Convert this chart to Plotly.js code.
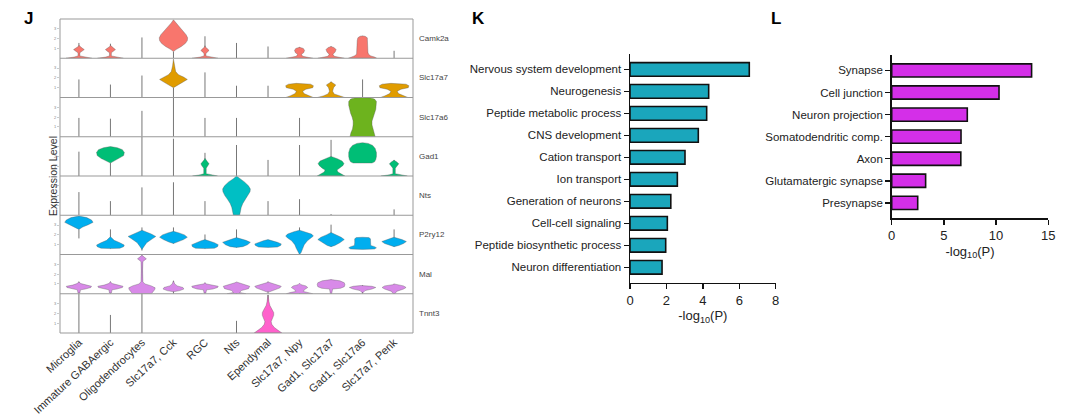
<!DOCTYPE html>
<html><head><meta charset="utf-8">
<script src="https://cdn.plot.ly/plotly-3.0.1.min.js"></script>
<style>html,body{margin:0;padding:0;background:#fff}#chart{width:1080px;height:419px}</style>
</head><body><div id="chart"></div>
<script>
// ---------------- DATA ----------------
const cellTypes = ['Microglia','Immature GABAergic','Oligodendrocytes','Slc17a7, Cck','RGC','Nts','Ependymal','Slc17a7, Npy','Gad1, Slc17a7','Gad1, Slc17a6','Slc17a7, Penk'];
const genes = ['Camk2a','Slc17a7','Slc17a6','Gad1','Nts','P2ry12','Mal','Tnnt3'];
const geneColors = ['#F8766D','#E09C00','#6DB31E','#00BE76','#00BFC4','#00AEEF','#D88AE8','#FF61CC'];

// spike lines per cell type: [low, high] in row-normalised expression (0 = row baseline, 1 = row max)
const camk2aSpikes  = [[0,0.39],[0,0.37],[0,0.53],[0,0.17],[0,0.56],[0,0.39],[0,0.30],[0,0.28],[0,0.30],[0,0.57],[0,0.19]];
const slc17a7Spikes = [[0,0.46],[0,0.33],[0,0.56],[0,0.25],[0,0.64],[0,0.30],[0,0.30],null,[0,0.40],[0,0.46],null];
const slc17a6Spikes = [[0,0.48],[0,0.46],[0,0.66],[0,1.0],[0,0.48],[0,0.48],null,[0,0.48],null,null,null];
const gad1Spikes    = [[0,0.62],[0,0.33],[0,1.0],[0,0.95],[0,0.59],[0,0.79],[0,0.41],[0,0.79],[0,0.92],null,[0,0.41]];
const ntsSpikes     = [[0,0.59],[0,0.36],[0,0.71],[0,0.84],[0,0.36],null,[0,0.36],[0,0.41],[0,0.03],null,[0,0.15]];
const p2ry12Spikes  = [[0.41,0.64],[0.15,0.64],[0.10,0.69],[0.28,0.69],[0.15,0.51],[0.18,0.64],null,[0,0.69],[0.2,0.76],null,[0.2,0.64]];
const malSpikes     = [[0,0.31],[0,0.31],[0,0.98],[0,0.33],[0,0.28],[0,0.28],[0,0.31],[0,0.25],[0,0.36],[0,0.22],[0,0.25]];
const tnnt3Spikes   = [[0,1.0],[0,0.46],[0,1.0],null,null,[0,0.31],[0,0.97],null,null,null,null];

// density profiles per cell type: [expression level, half-width of density]
const camk2aProfiles = [
  [[0,0.41],[0.03,0.15],[0.06,0.03],[0.14,0.03],[0.18,0.1],[0.22,0.17],[0.26,0.1],[0.3,0.02],[0.33,0]],
  [[0,0.41],[0.03,0.15],[0.06,0.03],[0.14,0.03],[0.18,0.1],[0.22,0.16],[0.26,0.1],[0.3,0.02],[0.33,0]],
  null,
  [[0.17,0],[0.22,0.08],[0.3,0.25],[0.38,0.38],[0.45,0.44],[0.52,0.45],[0.6,0.4],[0.7,0.3],[0.8,0.18],[0.9,0.07],[0.98,0]],
  [[0,0.41],[0.03,0.15],[0.06,0.03],[0.12,0.03],[0.16,0.08],[0.2,0.13],[0.24,0.08],[0.28,0.02],[0.32,0]],
  null, null,
  [[0,0.42],[0.02,0.3],[0.05,0.1],[0.1,0.06],[0.14,0.13],[0.2,0.16],[0.25,0.12],[0.28,0]],
  [[0,0.42],[0.02,0.3],[0.05,0.1],[0.1,0.06],[0.16,0.13],[0.22,0.16],[0.27,0.1],[0.3,0]],
  [[0,0.45],[0.03,0.38],[0.06,0.26],[0.1,0.19],[0.15,0.17],[0.3,0.17],[0.45,0.17],[0.52,0.15],[0.56,0.08],[0.57,0]],
  null
];
const slc17a7Profiles = [
  null, null, null,
  [[0.25,0],[0.3,0.1],[0.38,0.28],[0.46,0.44],[0.52,0.32],[0.58,0.16],[0.66,0.07],[0.8,0.03],[0.98,0]],
  null, null, null,
  [[0,0.44],[0.04,0.3],[0.1,0.14],[0.16,0.1],[0.21,0.2],[0.25,0.42],[0.3,0.44],[0.34,0.35],[0.36,0.1],[0.37,0]],
  [[0,0.44],[0.04,0.25],[0.09,0.1],[0.16,0.05],[0.25,0.08],[0.32,0.15],[0.37,0.05],[0.4,0]],
  null,
  [[0,0.44],[0.04,0.3],[0.1,0.14],[0.16,0.1],[0.21,0.22],[0.25,0.45],[0.3,0.47],[0.34,0.38],[0.36,0.1],[0.37,0]]
];
const slc17a6Profiles = [
  null, null, null, null, null, null, null, null, null,
  [[0,0.4],[0.1,0.37],[0.2,0.32],[0.3,0.3],[0.4,0.3],[0.5,0.33],[0.6,0.38],[0.7,0.42],[0.8,0.44],[0.9,0.44],[0.96,0.38],[0.99,0.25],[1.0,0]],
  null
];
const gad1Profiles = [
  null,
  [[0.33,0],[0.38,0.12],[0.45,0.3],[0.52,0.42],[0.6,0.44],[0.67,0.38],[0.72,0.22],[0.75,0]],
  null, null,
  [[0,0.4],[0.03,0.15],[0.06,0.04],[0.2,0.04],[0.26,0.1],[0.31,0.13],[0.36,0.08],[0.42,0.02],[0.45,0]],
  null, null, null,
  [[0,0.44],[0.05,0.35],[0.1,0.22],[0.15,0.19],[0.2,0.28],[0.27,0.38],[0.32,0.41],[0.38,0.35],[0.44,0.2],[0.48,0.06],[0.5,0]],
  [[0.33,0],[0.331,0.3],[0.36,0.38],[0.42,0.42],[0.5,0.44],[0.6,0.44],[0.7,0.4],[0.78,0.32],[0.83,0.18],[0.85,0]],
  [[0,0.42],[0.03,0.15],[0.06,0.04],[0.2,0.04],[0.26,0.1],[0.31,0.15],[0.36,0.08],[0.4,0]]
];
const ntsProfiles = [
  null, null, null, null, null,
  [[0,0.1],[0.1,0.12],[0.2,0.15],[0.3,0.2],[0.4,0.28],[0.5,0.37],[0.6,0.43],[0.67,0.44],[0.75,0.38],[0.85,0.25],[0.93,0.1],[1.0,0]],
  null, null, null, null, null
];
const p2ry12Profiles = [
  [[0.64,0],[0.7,0.12],[0.76,0.3],[0.82,0.45],[0.88,0.4],[0.94,0.25],[0.98,0]],
  [[0.15,0],[0.16,0.3],[0.2,0.42],[0.24,0.44],[0.3,0.3],[0.36,0.12],[0.43,0.03],[0.45,0]],
  [[0.13,0],[0.2,0.06],[0.3,0.15],[0.4,0.33],[0.46,0.44],[0.52,0.3],[0.58,0.1],[0.62,0]],
  [[0.28,0],[0.32,0.15],[0.38,0.32],[0.44,0.44],[0.5,0.35],[0.55,0.18],[0.59,0]],
  [[0.15,0],[0.16,0.3],[0.2,0.4],[0.25,0.42],[0.3,0.3],[0.35,0.12],[0.38,0]],
  [[0.18,0],[0.2,0.2],[0.25,0.35],[0.31,0.44],[0.36,0.3],[0.4,0.12],[0.43,0]],
  [[0.18,0],[0.19,0.3],[0.23,0.4],[0.27,0.42],[0.31,0.3],[0.35,0.15],[0.38,0]],
  [[0,0],[0.05,0.05],[0.15,0.1],[0.25,0.15],[0.35,0.25],[0.42,0.38],[0.47,0.44],[0.52,0.38],[0.58,0.18],[0.62,0]],
  [[0.2,0],[0.23,0.12],[0.3,0.28],[0.38,0.42],[0.44,0.32],[0.5,0.15],[0.56,0]],
  [[0.13,0],[0.14,0.38],[0.17,0.44],[0.2,0.38],[0.23,0.26],[0.3,0.25],[0.4,0.25],[0.43,0.2],[0.44,0]],
  [[0.2,0],[0.23,0.15],[0.28,0.3],[0.33,0.39],[0.38,0.25],[0.42,0.08],[0.44,0]]
];
const malProfiles = [
  [[0.02,0.03],[0.1,0.05],[0.12,0.2],[0.16,0.38],[0.19,0.4],[0.22,0.2],[0.26,0.06],[0.3,0]],
  [[0.02,0.03],[0.1,0.05],[0.12,0.2],[0.16,0.38],[0.19,0.4],[0.22,0.2],[0.26,0.06],[0.3,0]],
  [[0,0.3],[0.05,0.35],[0.1,0.4],[0.15,0.42],[0.2,0.3],[0.25,0.1],[0.3,0.03],[0.6,0.02],[0.82,0.03],[0.89,0.14],[0.96,0.03],[0.98,0]],
  [[0.05,0],[0.08,0.2],[0.12,0.33],[0.16,0.3],[0.2,0.12],[0.25,0.04],[0.33,0]],
  [[0.02,0.03],[0.1,0.05],[0.12,0.25],[0.16,0.4],[0.19,0.42],[0.22,0.25],[0.25,0.05],[0.28,0]],
  [[0,0.3],[0.03,0.1],[0.08,0.15],[0.13,0.38],[0.19,0.42],[0.24,0.25],[0.28,0.05],[0.3,0]],
  [[0.05,0.05],[0.1,0.2],[0.15,0.38],[0.19,0.42],[0.24,0.2],[0.28,0.05],[0.3,0]],
  [[0,0.42],[0.03,0.3],[0.06,0.12],[0.1,0.15],[0.16,0.26],[0.2,0.2],[0.23,0.05],[0.27,0]],
  [[0,0.02],[0.12,0.05],[0.14,0.3],[0.18,0.42],[0.23,0.44],[0.28,0.42],[0.33,0.28],[0.36,0]],
  [[0.03,0.02],[0.08,0.08],[0.12,0.3],[0.16,0.42],[0.19,0.3],[0.21,0.05],[0.22,0]],
  [[0,0.03],[0.06,0.08],[0.12,0.3],[0.16,0.38],[0.2,0.3],[0.23,0.05],[0.25,0]]
];
const tnnt3Profiles = [
  null, null, null, null, null, null,
  [[0,0.44],[0.03,0.4],[0.08,0.3],[0.14,0.2],[0.22,0.12],[0.29,0.1],[0.36,0.14],[0.45,0.18],[0.52,0.18],[0.6,0.13],[0.7,0.06],[0.8,0.03],[0.97,0]],
  null, null, null, null
];
const geneSpikes = [camk2aSpikes, slc17a7Spikes, slc17a6Spikes, gad1Spikes, ntsSpikes, p2ry12Spikes, malSpikes, tnnt3Spikes];
const geneProfiles = [camk2aProfiles, slc17a7Profiles, slc17a6Profiles, gad1Profiles, ntsProfiles, p2ry12Profiles, malProfiles, tnnt3Profiles];

// Panel K
const kTerms = ['Nervous system development','Neurogenesis','Peptide metabolic process','CNS development','Cation transport','Ion transport','Generation of neurons','Cell-cell signaling','Peptide biosynthetic process','Neuron differentiation'];
const kValues = [6.55, 4.32, 4.21, 3.75, 3.02, 2.6, 2.24, 2.05, 1.96, 1.76];
// Panel L
const lTerms = ['Synapse','Cell junction','Neuron projection','Somatodendritic comp.','Axon','Glutamatergic synapse','Presynapse'];
const lValues = [13.4, 10.28, 7.24, 6.64, 6.62, 3.25, 2.49];

// ---------------- LAYOUT ----------------
const W = 1080, H = 419;
const FONT = 'Liberation Sans, Arial, Helvetica, sans-serif';
const J_LEFT = 60, J_RIGHT = 413, ROW_TOP = 19, ROW_H = 39.25;
const px = v => v / W, py = v => 1 - v / H;

const traces = [];
const layout = {
  width: W, height: H, margin: {l:0, r:0, t:0, b:0},
  paper_bgcolor: '#fff', plot_bgcolor: 'rgba(0,0,0,0)',
  showlegend: false, font: {family: FONT, color: '#333'},
  shapes: [], annotations: []
};

layout.xaxis = {
  domain: [px(J_LEFT), px(J_RIGHT)], range: [-0.6, 10.6], anchor: 'y8',
  tickmode: 'array', tickvals: cellTypes.map((_, i) => i), ticktext: cellTypes,
  tickangle: -43, tickfont: {size: 11, color: '#333', family: FONT},
  showgrid: false, zeroline: false, showline: false, ticks: ''
};

genes.forEach((g, gi) => {
  const ax = gi === 0 ? 'y' : 'y' + (gi + 1);
  const axKey = gi === 0 ? 'yaxis' : 'yaxis' + (gi + 1);
  const top = ROW_TOP + gi * ROW_H, bot = top + ROW_H;
  layout[axKey] = {
    domain: [py(bot), py(top)], range: [0, 1.0], anchor: 'x',
    showgrid: false, zeroline: false, showline: false,
    tickmode: 'array', tickvals: [0.25, 0.5, 0.75], ticktext: ['1', '2', '3'],
    ticks: 'outside', ticklen: 2, tickcolor: '#999', tickwidth: 0.5,
    tickfont: {size: 4, color: '#888'}
  };
  // spikes
  const sx = [], sy = [];
  geneSpikes[gi].forEach((s, ci) => {
    if (!s) return;
    sx.push(ci, ci, null); sy.push(s[0], s[1], null);
  });
  traces.push({type: 'scatter', mode: 'lines', x: sx, y: sy, xaxis: 'x', yaxis: ax,
    line: {color: '#777', width: 1}, hoverinfo: 'skip'});
  // violins
  geneProfiles[gi].forEach((p, ci) => {
    if (!p) return;
    const xs = [], ys = [];
    p.forEach(([y, w]) => { xs.push(ci + w); ys.push(y); });
    for (let k = p.length - 1; k >= 0; k--) { xs.push(ci - p[k][1]); ys.push(p[k][0]); }
    xs.push(xs[0]); ys.push(ys[0]);
    traces.push({type: 'scatter', mode: 'lines', x: xs, y: ys, xaxis: 'x', yaxis: ax,
      fill: 'toself', fillcolor: geneColors[gi], line: {color: 'rgba(90,90,90,0.7)', width: 0.5},
      hoverinfo: 'skip'});
  });
  // gene label
  layout.annotations.push({xref: 'paper', yref: 'paper', x: px(417), y: py(top + ROW_H / 2),
    xanchor: 'left', yanchor: 'middle', text: g, showarrow: false,
    font: {size: 8, color: '#444', family: FONT}});
  // row separator
  if (gi > 0) layout.shapes.push({type: 'line', xref: 'paper', yref: 'paper',
    x0: px(J_LEFT), x1: px(J_RIGHT), y0: py(top), y1: py(top), line: {color: '#999', width: 1}});
});
layout.shapes.push({type: 'rect', xref: 'paper', yref: 'paper',
  x0: px(J_LEFT), x1: px(J_RIGHT), y0: py(ROW_TOP + 8 * ROW_H), y1: py(ROW_TOP),
  line: {color: '#999', width: 1}});
layout.annotations.push({xref: 'paper', yref: 'paper', x: px(45), y: py(ROW_TOP + 4 * ROW_H),
  text: 'Expression Level', textangle: -90, showarrow: false,
  font: {size: 10.5, color: '#333', family: FONT}});

// Panel K
traces.push({type: 'bar', orientation: 'h', x: kValues, y: kTerms, xaxis: 'x2', yaxis: 'y9',
  width: 0.62, marker: {color: '#1AA6BC', line: {color: '#111', width: 1.6}}, hoverinfo: 'skip'});
layout.xaxis2 = {domain: [px(630), px(775.7)], anchor: 'y9', range: [0, 8], dtick: 2, tick0: 0,
  showline: true, linecolor: '#111', linewidth: 1.5, ticks: 'outside', ticklen: 5, tickwidth: 1.5, tickcolor: '#111',
  showgrid: false, zeroline: false, tickfont: {size: 13, color: '#222', family: FONT},
  title: {text: '-log<sub>10</sub>(P)', font: {size: 13, color: '#222', family: FONT}, standoff: 4}};
layout.yaxis9 = {domain: [py(282.7), py(54)], anchor: 'x2', type: 'category',
  categoryorder: 'array', categoryarray: kTerms, range: [9.7, -0.7],
  showline: true, linecolor: '#111', linewidth: 1.5, ticks: 'outside', ticklen: 5, tickwidth: 1.5, tickcolor: '#111',
  showgrid: false, zeroline: false, tickfont: {size: 11.5, color: '#222', family: FONT}};

// Panel L
traces.push({type: 'bar', orientation: 'h', x: lValues, y: lTerms, xaxis: 'x3', yaxis: 'y10',
  width: 0.6, marker: {color: '#D42FE8', line: {color: '#111', width: 1.6}}, hoverinfo: 'skip'});
layout.xaxis3 = {domain: [px(891.7), px(1048.3)], anchor: 'y10', range: [0, 15], dtick: 5, tick0: 0,
  showline: true, linecolor: '#111', linewidth: 1.5, ticks: 'outside', ticklen: 5, tickwidth: 1.5, tickcolor: '#111',
  showgrid: false, zeroline: false, tickfont: {size: 13, color: '#222', family: FONT},
  title: {text: '-log<sub>10</sub>(P)', font: {size: 13, color: '#222', family: FONT}, standoff: 4}};
layout.yaxis10 = {domain: [py(218.3), py(55)], anchor: 'x3', type: 'category',
  categoryorder: 'array', categoryarray: lTerms, range: [6.7, -0.7],
  showline: true, linecolor: '#111', linewidth: 1.5, ticks: 'outside', ticklen: 5, tickwidth: 1.5, tickcolor: '#111',
  showgrid: false, zeroline: false, tickfont: {size: 11.5, color: '#222', family: FONT}};

// panel letters
[['J', 28], ['K', 478], ['L', 776]].forEach(([t, x]) => {
  layout.annotations.push({xref: 'paper', yref: 'paper', x: px(x), y: py(18), text: '<b>' + t + '</b>',
    showarrow: false, xanchor: 'center', yanchor: 'middle', font: {size: 17, color: '#000', family: FONT}});
});

Plotly.newPlot('chart', traces, layout, {staticPlot: true, displayModeBar: false});
</script></body></html>
